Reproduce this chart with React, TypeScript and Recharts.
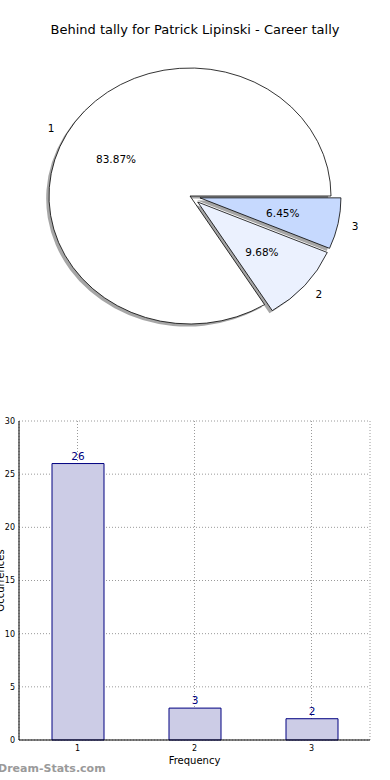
import React from "react";
import { PieChart, Pie, BarChart, Bar, XAxis, YAxis, CartesianGrid, LabelList } from "recharts";

// pie: behind tally
const sliceNames = ["1", "2", "3"];
const sliceCounts = [26, 3, 2];
const sliceColors = ["#ffffff", "#ebf1fe", "#c6d9fe"];
const sliceExplode = [0, 0.072, 0.072];

// bars: occurrences per frequency
const freqs = ["1", "2", "3"];
const occurrences = [26, 3, 2];
const yTicks = [0, 5, 10, 15, 20, 25, 30];

const pieData = sliceNames.map((name, i) => ({ name, value: sliceCounts[i] }));
const barData = freqs.map((name, i) => ({ name, value: occurrences[i] }));

const FONT = "'DejaVu Sans', sans-serif";
const SQUASH = 128 / 141; // the pie is drawn a bit flattened
const RAD = Math.PI / 180;

const pt = (cx: number, cy: number, r: number, a: number) => ({
  x: cx + r * Math.cos(a * RAD),
  y: cy - r * SQUASH * Math.sin(a * RAD),
});

const wedgePath = (cx: number, cy: number, r: number, a0: number, a1: number) => {
  const p0 = pt(cx, cy, r, a0);
  const p1 = pt(cx, cy, r, a1);
  const large = Math.abs(a1 - a0) > 180 ? 1 : 0;
  return `M${cx},${cy} L${p0.x},${p0.y} A${r},${r * SQUASH} 0 ${large} 0 ${p1.x},${p1.y} Z`;
};

// explode offset of a slice, along its mid angle
const shift = (props: any) => {
  const e = sliceExplode[props.index] * props.outerRadius;
  return pt(props.cx, props.cy, e, props.midAngle);
};

const ShadowLabel = (props: any) => {
  const c = shift(props);
  const r = props.outerRadius;
  return (
    <path
      d={wedgePath(c.x - 0.02 * r, c.y + 0.02 * r * SQUASH, r, props.startAngle, props.endAngle)}
      fill="#4d4d4d"
      fillOpacity={0.5}
      stroke="none"
    />
  );
};

const WedgeLabel = (props: any) => {
  const c = shift(props);
  const r = props.outerRadius;
  const inner = pt(c.x, c.y, r * 0.6, props.midAngle);
  const outer = pt(c.x, c.y, r * 1.1, props.midAngle);
  const right = Math.cos(props.midAngle * RAD) > 0;
  return (
    <g>
      <path
        d={wedgePath(c.x, c.y, r, props.startAngle, props.endAngle)}
        fill={sliceColors[props.index]}
        stroke="#000"
        strokeWidth={0.8}
      />
      <text x={inner.x} y={inner.y} textAnchor="middle" dominantBaseline="central" fontSize={10.5} fill="#000" fontFamily={FONT}>
        {(props.percent * 100).toFixed(2)}%
      </text>
      <text x={outer.x} y={outer.y} textAnchor={right ? "start" : "end"} dominantBaseline="central" fontSize={10.5} fill="#000" fontFamily={FONT}>
        {props.name}
      </text>
    </g>
  );
};

export default function App() {
  return (
    <div
      style={{
        position: "absolute",
        left: 0,
        top: 0,
        width: 390,
        height: 780,
        background: "#fff",
        overflow: "hidden",
        fontFamily: FONT,
      }}
    >
      <div style={{ position: "absolute", top: 22, width: 390, textAlign: "center", fontSize: 13, color: "#000" }}>
        Behind tally for Patrick Lipinski - Career tally
      </div>

      <div style={{ position: "absolute", top: 0, left: 0 }}>
        <PieChart width={390} height={390} margin={{ top: 0, right: 0, bottom: 0, left: 0 }}>
          {/* shadows first, so every wedge sits above them */}
          <Pie
            data={pieData}
            dataKey="value"
            nameKey="name"
            cx={190}
            cy={196}
            outerRadius={141}
            startAngle={0}
            endAngle={360}
            fill="none"
            stroke="none"
            label={ShadowLabel}
            labelLine={false}
            isAnimationActive={false}
          />
          <Pie
            data={pieData}
            dataKey="value"
            nameKey="name"
            cx={190}
            cy={196}
            outerRadius={141}
            startAngle={0}
            endAngle={360}
            fill="none"
            stroke="none"
            label={WedgeLabel}
            labelLine={false}
            isAnimationActive={false}
          />
        </PieChart>
      </div>

      <div style={{ position: "absolute", top: 400, left: 0 }}>
        <BarChart width={390} height={380} data={barData} margin={{ top: 21, right: 20, bottom: 10, left: 0 }}>
          <CartesianGrid stroke="#9a9a9a" strokeDasharray="1 2" />
          <XAxis
            dataKey="name"
            height={30}
            axisLine={{ stroke: "#000" }}
            tickLine={false}
            tickSize={3}
            tickMargin={2}
            tick={{ fontSize: 8, fill: "#000", fontFamily: FONT }}
            label={{ value: "Frequency", position: "insideBottom", offset: 6, fontSize: 10, fill: "#000", fontFamily: FONT }}
          />
          <XAxis xAxisId="top" dataKey="name" orientation="top" height={0} tick={false} tickLine={false} axisLine={{ stroke: "#000" }} />
          <YAxis
            domain={[0, 30]}
            ticks={yTicks}
            width={19}
            axisLine={{ stroke: "#000" }}
            tickLine={false}
            tickSize={3}
            tickMargin={1}
            tick={{ fontSize: 8, fill: "#000", fontFamily: FONT }}
            label={{ value: "Occurrences", angle: -90, position: "center", dx: -9, fontSize: 10, fill: "#000", fontFamily: FONT }}
          />
          <YAxis yAxisId="right" orientation="right" domain={[0, 30]} width={0} tick={false} tickLine={false} axisLine={{ stroke: "#000" }} />
          <Bar dataKey="value" fill="#ccccE6" stroke="#000080" strokeWidth={1} barSize={52} isAnimationActive={false}>
            <LabelList dataKey="value" position="top" offset={4} fill="#000080" fontSize={10.5} fontFamily={FONT} />
          </Bar>
        </BarChart>
      </div>

      <div
        style={{
          position: "absolute",
          left: -2,
          top: 762,
          fontSize: 11,
          fontWeight: "bold",
          color: "#9a9a9a",
        }}
      >
        Dream-Stats.com
      </div>
    </div>
  );
}
